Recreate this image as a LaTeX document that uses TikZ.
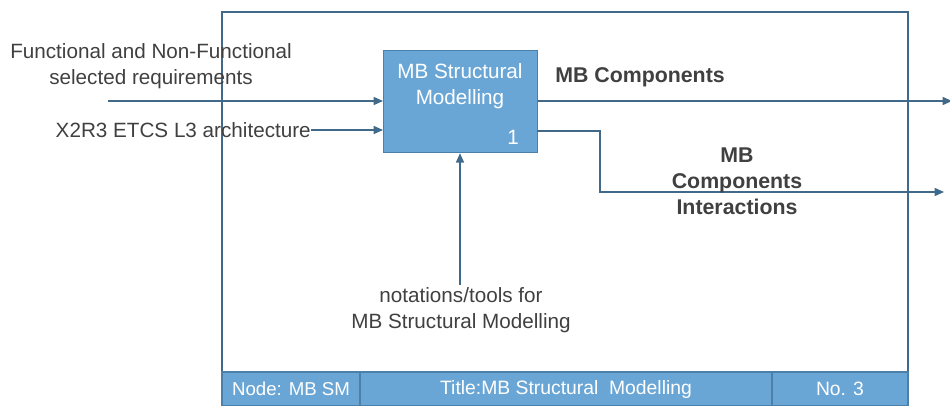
\documentclass[tikz,border=0pt]{standalone}
\usepackage{fontspec}
\setmainfont{Liberation Sans}
\usetikzlibrary{arrows.meta}
\definecolor{linec}{HTML}{416A8A}
\definecolor{boxfill}{HTML}{6AA6D5}
\definecolor{boxdraw}{HTML}{4D80A8}
\definecolor{txt}{HTML}{404040}
\tikzset{
  conn/.style={draw=linec, line width=1.1pt},
  arr/.style={conn, -{Triangle[length=7pt,width=6pt]}},
  lbl/.style={text=txt, font=\fontsize{15.5}{19}\selectfont, align=center, inner sep=0pt},
  blbl/.style={lbl, font=\fontsize{16}{19.5}\selectfont\bfseries},
  ftxt/.style={text=white, font=\fontsize{14.5}{16}\selectfont, inner sep=0pt},
  fcell/.style={fill=boxfill, draw=boxdraw, line width=0.8pt},
}
\begin{document}
\begin{tikzpicture}[x=0.75pt,y=-0.75pt]
\useasboundingbox (0,0) rectangle (950,406);
% frame
\draw[draw=linec, line width=0.9pt] (222,406) -- (222,12) -- (908,12) -- (908,406);
% footer
\draw[fcell] (222,372) rectangle (360,406);
\draw[fcell] (360,372) rectangle (772,406);
\draw[fcell] (772,372) rectangle (908,406);
\node[ftxt, font=\fontsize{14}{16}\selectfont] (fa) at (291,389) {Node: MB SM};
\node[ftxt] (fb) at (566,389) {Title:MB Structural\ \ Modelling};
\node[ftxt] (fc) at (840,389) {No. 3};
% main box
\node[fill=boxfill, draw=boxdraw, line width=0.9pt, minimum width=154*0.75pt, minimum height=102*0.75pt, inner sep=0pt, anchor=north west] (box) at (383,50) {};
\node[text=white, font=\fontsize{15.5}{19}\selectfont, align=center, inner sep=0pt] (boxt) at (460,86) {MB Structural\\Modelling};
\node[text=white, font=\fontsize{15.5}{19}\selectfont, inner sep=0pt] (num) at (513,137) {1};
% inputs
\node[lbl] (in1) at (151,66) {Functional and Non-Functional\\selected requirements};
\coordinate (in1s) at (108,101);
\draw[arr] (in1s) -- (in1s -| box.west);
\node[lbl, anchor=east] (in2) at (311,130) {X2R3 ETCS L3 architecture};
\draw[arr] (in2.east) -- (in2.east -| box.west);
% outputs
\coordinate (o1e) at (952,101);
\draw[arr] (o1e -| box.east) -- (o1e);
\node[blbl, anchor=west] (o1) at (555,77) {MB Components};
\coordinate (o2s) at (537,131);
\coordinate (o2c) at (600,131);
\coordinate (o2e) at (944,192);
\draw[arr] (o2s) -- (o2c) |- (o2e);
\node[blbl] (o2) at (737,181) {MB\\Components\\Interactions};
% control
\node[lbl] (ctl) at (461,310) {notations/tools for\\MB Structural Modelling};
\coordinate (ctls) at (460,285);
\draw[arr] (ctls) -- (ctls |- box.south);
\end{tikzpicture}
\end{document}
